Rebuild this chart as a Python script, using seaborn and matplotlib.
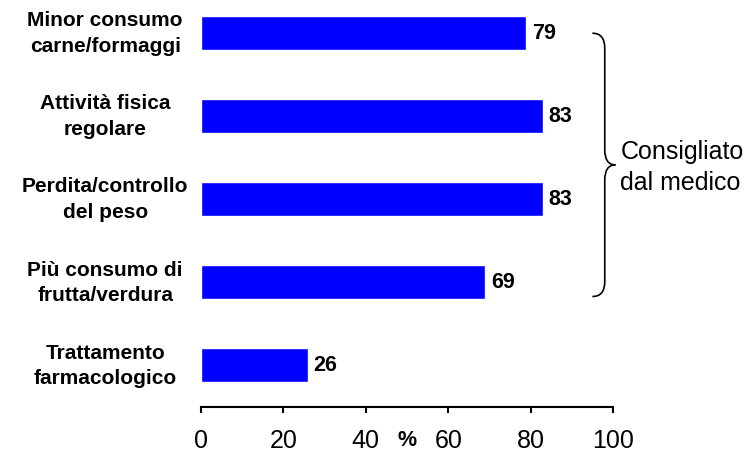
import matplotlib
matplotlib.use("Agg")
import matplotlib.pyplot as plt
from matplotlib.path import Path
from matplotlib.patches import PathPatch
import matplotlib.transforms as mtransforms
import seaborn as sns
import pandas as pd

categories = ["Minor consumo\ncarne/formaggi", "Attività fisica\nregolare",
              "Perdita/controllo\ndel peso", "Più consumo di\nfrutta/verdura",
              "Trattamento\nfarmacologico"]
values = [79, 83, 83, 69, 26]
x_ticks = [0, 20, 40, 60, 80, 100]
brace_label = "Consigliato\ndal medico"
brace_span = (0, 3)  # categories grouped by the brace

sns.set_style("white")
plt.rcParams["font.family"] = ["Liberation Sans", "DejaVu Sans"]
plt.rcParams.update({"text.color": "black", "xtick.color": "black",
                     "ytick.color": "black", "axes.labelcolor": "black"})

df = pd.DataFrame({"cat": categories, "val": values})

fig = plt.figure(figsize=(7.51, 4.55), dpi=100)
ax = fig.add_axes([201 / 751, 48 / 455, 412 / 751, 407 / 455])
sns.barplot(data=df, x="val", y="cat", orient="h", color="#0000ff",
            saturation=1, width=0.41, ax=ax)

ax.set_xlim(0, 100)
ax.set_ylim(4.5, -0.4)
ax.set_xticks(x_ticks)
ax.set_xlabel(""); ax.set_ylabel("")
for s in ["top", "right", "left"]:
    ax.spines[s].set_visible(False)
ax.spines["bottom"].set_color("black")
ax.spines["bottom"].set_linewidth(1.5)
ax.tick_params(axis="x", direction="out", length=4.5, width=1.5, color="black",
               labelsize=18, pad=11, bottom=True)
ax.tick_params(axis="y", length=0, pad=69, labelsize=15)
shift_up = mtransforms.ScaledTranslation(0, 3.5 / 72, fig.dpi_scale_trans)
for lbl in ax.get_yticklabels():
    lbl.set_ha("center")
    lbl.set_fontweight("bold")
    lbl.set_multialignment("center")
    lbl.set_linespacing(1.45)
    lbl.set_transform(lbl.get_transform() + shift_up)

ax.bar_label(ax.containers[0], fmt="%d", padding=4, fontsize=15.5, fontweight="bold")

trans = mtransforms.blended_transform_factory(ax.transData, ax.transAxes)
ax.text(50, -0.082, "%", transform=trans, ha="center", va="center",
        fontsize=15.5, fontweight="bold")

# curly brace
yt = brace_span[0] - 0.0
yb = brace_span[1] + 0.17
ym = (yt + yb) / 2
x0, x1, x2 = 95.0, 98.0, 100.6
r = 0.18
verts = [(x0, yt), (x1, yt), (x1, yt + r), (x1, ym - r), (x1, ym), (x2, ym),
         (x1, ym), (x1, ym + r), (x1, yb - r), (x1, yb), (x0, yb)]
codes = [Path.MOVETO, Path.CURVE3, Path.CURVE3, Path.LINETO, Path.CURVE3, Path.CURVE3,
         Path.CURVE3, Path.CURVE3, Path.LINETO, Path.CURVE3, Path.CURVE3]
ax.add_patch(PathPatch(Path(verts, codes), fill=False, lw=1.2, color="black", clip_on=False))
ax.text(101.8, ym + 0.03, brace_label, ha="left", va="center", fontsize=18, linespacing=1.35)

fig.savefig("out.png", dpi=100)
